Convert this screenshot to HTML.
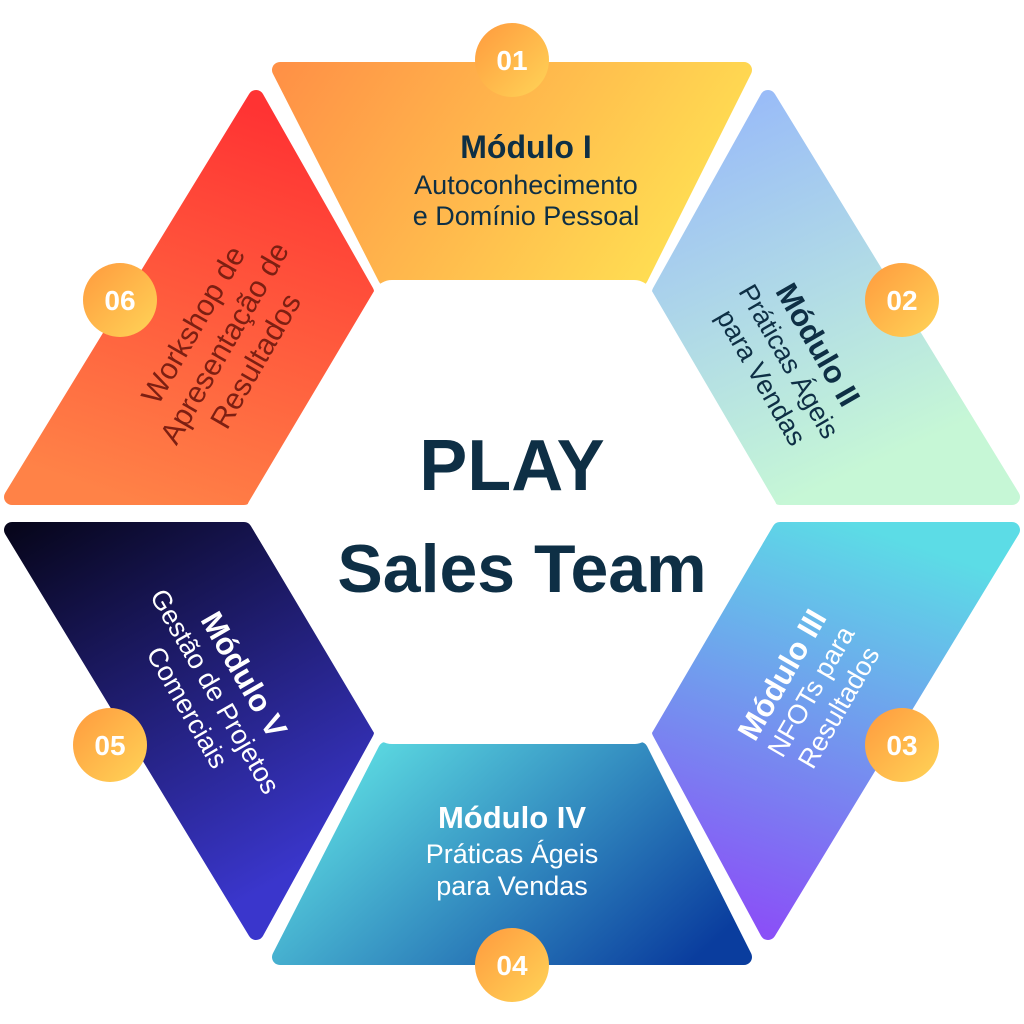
<!DOCTYPE html>
<html><head><meta charset="utf-8"><style>
html,body{margin:0;padding:0;background:#fff;}
svg{display:block;}
text{font-family:"Liberation Sans","DejaVu Sans",sans-serif;}
</style></head><body>
<svg width="1024" height="1024" viewBox="0 0 1024 1024" xmlns="http://www.w3.org/2000/svg">
<defs>
<linearGradient id="gTop" x1="0" y1="0" x2="1" y2="0.3"><stop offset="0" stop-color="#ff9146"/><stop offset="1" stop-color="#ffdc52"/></linearGradient>
<linearGradient id="gRT" x1="0" y1="0" x2="0.4" y2="1"><stop offset="0" stop-color="#95b6fb"/><stop offset="1" stop-color="#c6f7d6"/></linearGradient>
<linearGradient id="gRB" x1="0.6" y1="0" x2="0.3" y2="1"><stop offset="0" stop-color="#5cdce6"/><stop offset="1" stop-color="#8a50f7"/></linearGradient>
<linearGradient id="gB" x1="0" y1="0.3" x2="1" y2="0.8"><stop offset="0" stop-color="#5ddce2"/><stop offset="1" stop-color="#0a3d9e"/></linearGradient>
<linearGradient id="gLB" x1="0" y1="0" x2="0.5" y2="1"><stop offset="0" stop-color="#07061c"/><stop offset="1" stop-color="#3a36cc"/></linearGradient>
<linearGradient id="gLT" x1="0.6" y1="0" x2="0.3" y2="1"><stop offset="0" stop-color="#ff3333"/><stop offset="1" stop-color="#ff8247"/></linearGradient>
<linearGradient id="gC" x1="0" y1="0" x2="1" y2="1"><stop offset="0" stop-color="#ff9a3e"/><stop offset="1" stop-color="#ffd457"/></linearGradient>
</defs>
<g stroke-linejoin="round" stroke-width="16">
<polygon points="280,70 744,70 640,278 386,278" fill="url(#gTop)" stroke="url(#gTop)"/>
<polygon points="768,98 1012,497 780,497 660,292" fill="url(#gRT)" stroke="url(#gRT)"/>
<polygon points="1012,530 780,530 660,732 768,932" fill="url(#gRB)" stroke="url(#gRB)"/>
<polygon points="280,957 744,957 640,750 386,750" fill="url(#gB)" stroke="url(#gB)"/>
<polygon points="12,530 244,530 366,732 256,932" fill="url(#gLB)" stroke="url(#gLB)"/>
<polygon points="256,98 366,292 244,497 12,497" fill="url(#gLT)" stroke="url(#gLT)"/>
</g>
<polygon points="392,300 634,300 758,512 634,724 392,724 266,512" fill="#fff" stroke="#fff" stroke-width="40" stroke-linejoin="round"/>
<text x="512" y="490" text-anchor="middle" font-size="72" font-weight="bold" fill="#0e2f45">PLAY</text>
<text x="522" y="592" text-anchor="middle" font-size="68" font-weight="bold" fill="#0e2f45">Sales Team</text>

<g fill="#0e2f45" text-anchor="middle">
<text x="526" y="158" font-size="32" font-weight="bold">Módulo I</text>
<text x="526" y="194" font-size="27">Autoconhecimento</text>
<text x="526" y="225" font-size="27">e Domínio Pessoal</text>
</g>
<g fill="#0e2f45" text-anchor="middle" transform="translate(788,362) rotate(60)">
<text x="0" y="-24" font-size="31" font-weight="bold">Módulo II</text>
<text x="0" y="8" font-size="27">Práticas Ágeis</text>
<text x="0" y="40" font-size="27">para Vendas</text>
</g>
<g fill="#fff" text-anchor="middle" transform="translate(812,692) rotate(-60)">
<text x="0" y="-24" font-size="31" font-weight="bold">Módulo III</text>
<text x="0" y="8" font-size="27">NFOTs para</text>
<text x="0" y="40" font-size="27">Resultados</text>
</g>
<g fill="#fff" text-anchor="middle">
<text x="512" y="828" font-size="31" font-weight="bold">Módulo IV</text>
<text x="512" y="863" font-size="27">Práticas Ágeis</text>
<text x="512" y="895" font-size="27">para Vendas</text>
</g>
<g fill="#fff" text-anchor="middle" transform="translate(214,692) rotate(60)">
<text x="0" y="-24" font-size="31" font-weight="bold">Módulo V</text>
<text x="0" y="8" font-size="27">Gestão de Projetos</text>
<text x="0" y="40" font-size="27">Comerciais</text>
</g>
<g fill="#7d1f12" text-anchor="middle" transform="translate(228,345) rotate(-60)">
<text x="0" y="-30" font-size="30">Workshop de</text>
<text x="0" y="6" font-size="30">Apresentação de</text>
<text x="0" y="42" font-size="30">Resultados</text>
</g>

<g font-size="28" font-weight="bold" fill="#fff" text-anchor="middle">
<circle cx="512" cy="60" r="37" fill="url(#gC)"/><text x="512" y="70">01</text>
<circle cx="902" cy="300" r="37" fill="url(#gC)"/><text x="902" y="310">02</text>
<circle cx="902" cy="745" r="37" fill="url(#gC)"/><text x="902" y="755">03</text>
<circle cx="512" cy="965" r="37" fill="url(#gC)"/><text x="512" y="975">04</text>
<circle cx="110" cy="745" r="37" fill="url(#gC)"/><text x="110" y="755">05</text>
<circle cx="120" cy="300" r="37" fill="url(#gC)"/><text x="120" y="310">06</text>
</g>
</svg>
</body></html>
